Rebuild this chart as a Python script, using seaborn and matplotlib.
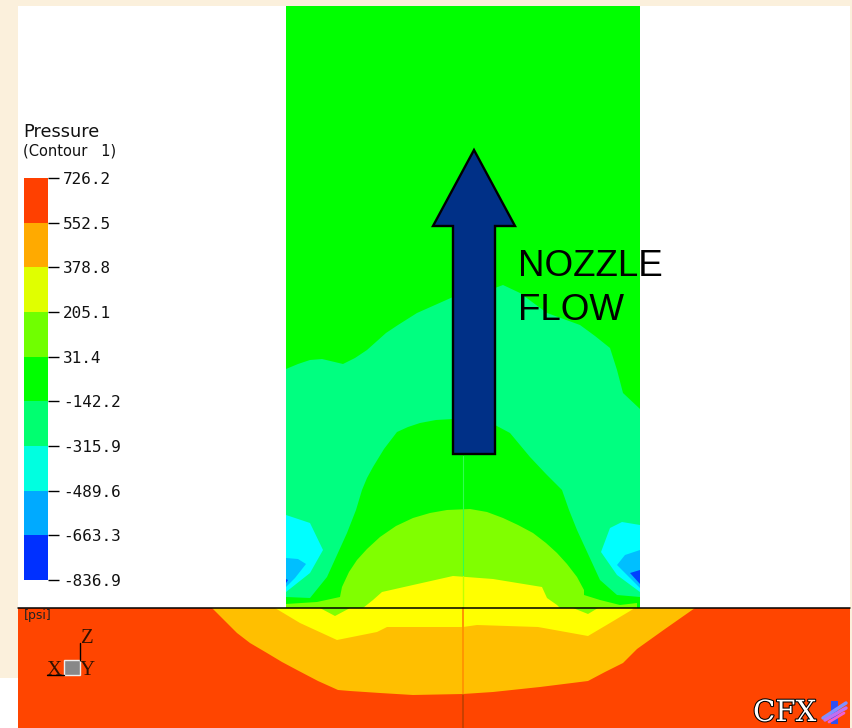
import matplotlib
matplotlib.use("Agg")
import matplotlib.pyplot as plt
import numpy as np
import seaborn as sns
from matplotlib.colors import ListedColormap
from matplotlib.patches import Rectangle, Polygon
import matplotlib.patheffects as pe

# legend of the contour plot, top to bottom
levels = [726.2, 552.5, 378.8, 205.1, 31.4, -142.2, -315.9, -489.6, -663.3, -836.9]
level_labels = ["726.2", "552.5", "378.8", "205.1", "31.4", "-142.2", "-315.9", "-489.6", "-663.3", "-836.9"]
legend_colors = ["#FF4000", "#FFAA00", "#E0FF00", "#70FF00", "#00FF00",
                 "#00FF70", "#00FFE0", "#00AAFF", "#0030FF"]

# contour outlines (image pixels)
spring_x = [286, 298, 310, 322, 343, 355, 367, 386, 398, 417, 435, 453, 495, 503, 520, 547, 580, 595, 610, 617, 623, 640, 640, 286]
spring_y = [369, 364, 360, 359, 364, 358, 350, 333, 325, 313, 305, 297, 288, 285, 293, 313, 325, 336, 348, 370, 393, 409, 608, 608]

dome_x = [286, 310, 327, 347, 356, 362, 367, 373, 384, 397, 408, 420, 436, 453, 495, 510, 520, 530, 546, 562, 569, 577, 600, 617, 640, 640, 286]
dome_y = [597, 598, 577, 533, 510, 490, 478, 467, 449, 432, 427, 423, 420, 419, 425, 433, 445, 457, 474, 490, 510, 530, 580, 595, 597, 608, 608]

cyan_left_x = [286, 310, 323, 310, 286]
cyan_left_y = [515, 523, 550, 573, 592]
cyan_right_x = [640, 622, 610, 601, 617, 640]
cyan_right_y = [525, 522, 528, 552, 575, 592]

sky_left_x = [286, 298, 306, 295, 286]
sky_left_y = [558, 559, 564, 578, 587]
sky_right_x = [640, 625, 617, 625, 640]
sky_right_y = [550, 555, 565, 573, 588]

blue_left_x = [286, 288, 286]
blue_left_y = [579, 580, 583]
blue_right_x = [630, 640, 640]
blue_right_y = [573, 570, 584]

lime_x = [286, 317, 340, 342, 349, 357, 367, 380, 396, 413, 430, 447, 470, 487, 503, 518, 533, 546, 557, 567, 577, 584, 584, 600, 620, 637, 637, 286]
lime_y = [604, 602, 597, 587, 572, 560, 549, 537, 526, 518, 513, 510, 509, 512, 518, 525, 533, 543, 553, 564, 577, 590, 595, 600, 605, 603, 608, 608]

yellow_x = [363, 373, 382, 413, 453, 493, 542, 547, 557, 560]
yellow_y = [608, 600, 592, 585, 576, 579, 587, 598, 605, 608]

amber_x = [212, 225, 237, 250, 267, 282, 297, 318, 338, 350, 380, 413, 463, 493, 540, 588, 605, 623, 637, 665, 695]
amber_y = [608, 621, 633, 643, 653, 662, 670, 681, 690, 691, 693, 695, 694, 692, 687, 681, 672, 663, 649, 629, 608]

low_yellow_x = [275, 300, 337, 377, 387, 463, 477, 538, 588, 610, 635]
low_yellow_y = [608, 623, 640, 632, 627, 627, 625, 627, 636, 623, 608]

low_lime_left_x = [320, 335, 350]
low_lime_left_y = [608, 616, 608]
low_lime_right_x = [573, 588, 598]
low_lime_right_y = [608, 614, 608]

arrow_x = [474, 515, 495, 495, 453, 453, 433]
arrow_y = [150, 226, 226, 454, 454, 226, 226]

sns.set_theme(style="white")
plt.rcParams["font.family"] = ["DejaVu Sans"]

fig = plt.figure(figsize=(8.52, 7.28), dpi=100, facecolor="#FBF0DC")
ax = fig.add_axes([0, 0, 1, 1])
ax.set_xlim(0, 852)
ax.set_ylim(728, 0)
ax.axis("off")

ax.add_patch(Rectangle((0, 678), 18, 50, fc="white", ec="none"))
ax.add_patch(Rectangle((18, 6), 832, 722, fc="white", ec="none"))

# nozzle side
ax.add_patch(Rectangle((286, 6), 354, 602, fc="#00FF00", ec="none"))
ax.fill(spring_x, spring_y, color="#00FF80", lw=0)
ax.fill(cyan_left_x, cyan_left_y, color="#00FFFF", lw=0)
ax.fill(cyan_right_x, cyan_right_y, color="#00FFFF", lw=0)
ax.fill(sky_left_x, sky_left_y, color="#00BFFF", lw=0)
ax.fill(sky_right_x, sky_right_y, color="#00BFFF", lw=0)
ax.fill(blue_left_x, blue_left_y, color="#0040FF", lw=0)
ax.fill(blue_right_x, blue_right_y, color="#0040FF", lw=0)
ax.fill(dome_x, dome_y, color="#00FF00", lw=0)
ax.fill(lime_x, lime_y, color="#80FF00", lw=0)
ax.fill(yellow_x, yellow_y, color="#FFFF00", lw=0)

# lower side
ax.add_patch(Rectangle((18, 608), 832, 120, fc="#FF4500", ec="none"))
ax.fill(amber_x, amber_y, color="#FFBF00", lw=0)
ax.fill(low_yellow_x, low_yellow_y, color="#FFFF00", lw=0)
ax.fill(low_lime_left_x, low_lime_left_y, color="#80FF00", lw=0)
ax.fill(low_lime_right_x, low_lime_right_y, color="#80FF00", lw=0)

# symmetry line
ax.plot([463, 463], [456, 576], color="#30FF50", lw=0.8)
ax.plot([463, 463], [576, 608], color="#C0FF00", lw=1)
ax.plot([463, 463], [608, 695], color="#FF9500", lw=1.4)
ax.plot([463, 463], [695, 728], color="#C84000", lw=1.4)
ax.plot([18, 850], [608, 608], color="black", lw=1.1)

ax.add_patch(Polygon(np.column_stack([arrow_x, arrow_y]), closed=True, fc="#003087", ec="black", lw=1.7))
ax.text(518, 276, "NOZZLE", family="Liberation Sans", fontsize=26.5, color="black", va="baseline")
ax.text(518, 320, "FLOW", family="Liberation Sans", fontsize=26.5, color="black", va="baseline")

# legend
ax.text(23, 137, "Pressure", fontsize=12.8, color="#111111", va="baseline")
ax.text(23, 156, "(Contour   1)", fontsize=10.5, color="#111111", va="baseline")
ax.text(24, 619, "[psi]", fontsize=9, color="#222222", va="baseline")

cax = fig.add_axes([24 / 852, 1 - 580 / 728, 24 / 852, 402 / 728])
middles = np.array(levels[:-1]) / 2 + np.array(levels[1:]) / 2
sns.heatmap(middles.reshape(-1, 1), ax=cax, cmap=ListedColormap(legend_colors[::-1]),
            cbar=False, xticklabels=False, linewidths=0)
cax.yaxis.tick_right()
cax.set_yticks(np.arange(len(levels)))
cax.set_yticklabels(level_labels, rotation=0, family="DejaVu Sans Mono", fontsize=11.5, color="#111111")
cax.tick_params(axis="y", length=8, width=1, color="black", pad=3, right=True, left=False)

# axis triad
ax.add_patch(Rectangle((64, 660), 16, 15, fc="#888888", ec="#EEEEEE", lw=1))
ax.plot([80, 80], [643, 660], color="black", lw=1)
ax.plot([47, 64], [675, 675], color="black", lw=1)
ax.text(87, 643, "Z", family="Liberation Serif", fontsize=15, color="#331100", ha="center", va="baseline")
ax.text(54, 675, "X", family="Liberation Serif", fontsize=15, color="#331100", ha="center", va="baseline")
ax.text(87, 675, "Y", family="Liberation Serif", fontsize=15, color="#331100", ha="center", va="baseline")

# logo
ax.text(753, 721, "CFX", family="DejaVu Serif", fontsize=21, color="white", va="baseline",
        path_effects=[pe.withStroke(linewidth=1.5, foreground="black")])
ax.add_patch(Rectangle((831, 701), 7, 23, fc="#3050F0", ec="none"))
ax.plot([823, 846], [718, 703], color="#8090FF", lw=2.5)
ax.plot([825, 846], [720, 708], color="#C070F0", lw=2.5)
ax.plot([829, 844], [722, 713], color="#F060D0", lw=2)

fig.savefig("out.png", dpi=100, facecolor=fig.get_facecolor())
